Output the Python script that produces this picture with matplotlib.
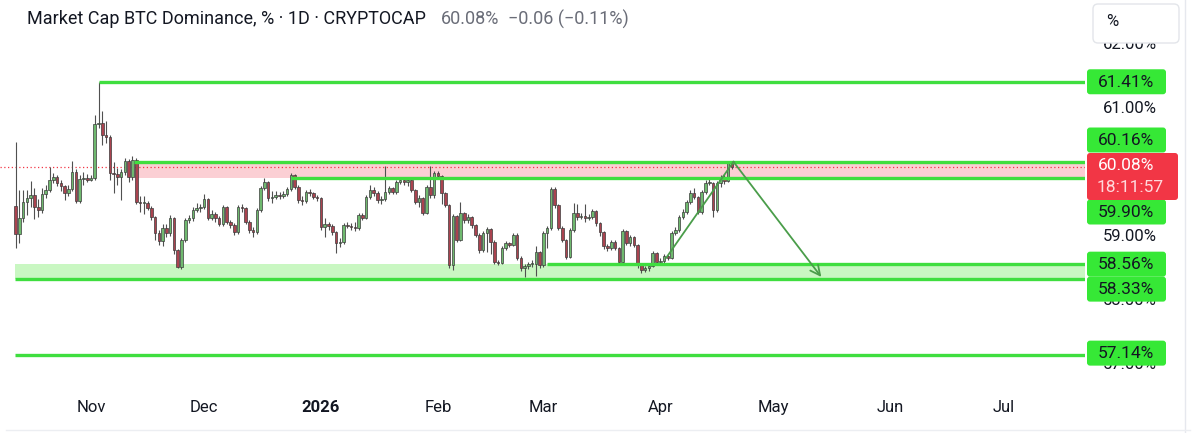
import numpy as np
import pandas as pd
import matplotlib
matplotlib.use("Agg")
import matplotlib.pyplot as plt
import matplotlib.dates as mdates
from matplotlib.patches import FancyBboxPatch

plt.rcParams['font.family'] = ['Roboto', 'DejaVu Sans']

# ---- data (daily candles, CRYPTOCAP:BTC.D) ----
start_date = '2025-10-12'
first_open = 59.47
closes = [
    59.03, 59.28, 59.53, 59.59, 59.64, 59.45, 59.40, 59.66, 59.72, 59.88,
    59.92, 59.83, 59.78, 59.67, 59.73, 60.00, 59.55, 59.89, 59.91, 59.88,
    59.91, 60.75, 60.77, 60.58, 60.55, 59.98, 59.97, 59.92, 60.00, 60.17,
    59.92, 60.19, 59.53, 59.52, 59.52, 59.44, 59.30, 59.05, 58.92, 59.13,
    59.05, 59.28, 58.78, 58.52, 58.94, 59.25, 59.28, 59.41, 59.44, 59.45,
    59.58, 59.28, 59.34, 59.28, 59.19, 59.45, 59.22, 59.17, 59.06, 59.45,
    59.44, 59.22, 59.09, 59.06, 59.41, 59.75, 59.84, 59.59, 59.61, 59.64,
    59.63, 59.66, 59.73, 59.95, 59.77, 59.56, 59.55, 59.69, 59.67, 59.61,
    59.59, 59.14, 59.19, 59.16, 59.06, 58.89, 58.91, 59.17, 59.16, 59.14,
    59.13, 59.33, 59.28, 59.61, 59.72, 59.67, 59.56, 59.58, 59.69, 59.75,
    59.69, 59.84, 59.88, 59.84, 59.88, 59.72, 59.53, 59.59, 59.36, 59.77,
    59.64, 59.98, 59.94, 59.67, 59.48, 58.55, 59.31, 58.94, 59.36, 59.25,
    59.30, 59.17, 59.02, 58.78, 59.05, 59.11, 58.91, 58.59, 58.58, 58.81,
    58.89, 58.86, 59.02, 58.66, 58.50, 58.53, 58.56, 58.56, 58.75, 58.55,
    59.05, 59.13, 59.73, 59.48, 59.13, 58.94, 58.67, 59.09, 59.36, 59.30,
    59.31, 59.28, 59.30, 59.39, 59.20, 59.06, 58.84, 58.81, 58.91, 58.81,
    58.59, 59.08, 58.89, 58.98, 58.86, 58.55, 58.47, 58.50, 58.53, 58.73,
    58.59, 58.61, 58.69, 58.66, 59.05, 59.09, 59.30, 59.38, 59.53, 59.67,
    59.61, 59.38, 59.69, 59.83, 59.83, 59.41, 59.83, 59.92, 59.86, 60.14,
    60.08]
highs = [
    60.47, 59.72, 59.72, 59.72, 59.86, 59.75, 59.58, 59.75, 59.80, 60.08,
    59.98, 59.95, 59.88, 59.80, 59.80, 60.17, 60.05, 59.95, 60.00, 59.97,
    59.95, 60.89, 61.41, 60.95, 60.80, 60.58, 60.16, 60.06, 60.05, 60.22,
    60.20, 60.25, 60.22, 59.62, 59.62, 59.55, 59.47, 59.32, 59.10, 59.18,
    59.18, 59.33, 59.30, 58.80, 58.97, 59.28, 59.33, 59.45, 59.52, 59.50,
    59.66, 59.60, 59.40, 59.38, 59.31, 59.48, 59.47, 59.25, 59.20, 59.48,
    59.50, 59.46, 59.25, 59.14, 59.44, 59.78, 59.91, 59.86, 59.70, 59.70,
    59.68, 59.70, 59.77, 59.98, 59.97, 59.79, 59.62, 59.72, 59.74, 59.69,
    59.64, 59.61, 59.28, 59.22, 59.18, 59.08, 58.97, 59.20, 59.22, 59.20,
    59.22, 59.36, 59.36, 59.64, 59.80, 59.76, 59.70, 59.63, 60.09, 59.78,
    59.77, 59.87, 59.92, 59.90, 59.92, 59.90, 59.74, 59.64, 59.61, 59.80,
    60.09, 60.02, 60.02, 59.96, 59.69, 59.50, 59.34, 59.33, 59.53, 59.38,
    59.34, 59.32, 59.19, 59.04, 59.08, 59.14, 59.13, 58.93, 58.62, 58.84,
    58.92, 58.91, 59.05, 59.04, 58.68, 58.56, 58.59, 58.62, 58.84, 58.77,
    59.08, 59.16, 59.76, 59.77, 59.50, 59.15, 58.96, 59.12, 59.52, 59.50,
    59.36, 59.50, 59.34, 59.42, 59.41, 59.22, 59.08, 58.88, 58.94, 58.93,
    58.83, 59.11, 59.10, 59.01, 59.00, 58.88, 58.57, 58.53, 58.56, 58.76,
    58.75, 58.66, 58.72, 58.70, 59.08, 59.14, 59.33, 59.42, 59.56, 59.72,
    59.75, 59.63, 59.72, 59.88, 59.90, 59.85, 59.86, 59.95, 59.97, 60.17,
    60.15]
lows = [
    58.81, 58.89, 59.22, 59.33, 59.45, 59.27, 59.30, 59.36, 59.60, 59.68,
    59.83, 59.78, 59.70, 59.56, 59.62, 59.70, 59.52, 59.52, 59.80, 59.84,
    59.86, 59.88, 60.69, 60.42, 60.45, 59.88, 59.67, 59.80, 59.56, 59.95,
    59.85, 59.88, 59.50, 59.38, 59.34, 59.40, 59.25, 58.94, 58.86, 58.85,
    58.98, 59.00, 58.72, 58.50, 58.48, 58.90, 59.20, 59.24, 59.38, 59.38,
    59.42, 59.25, 59.25, 59.22, 59.15, 59.16, 59.18, 59.12, 59.02, 59.03,
    59.38, 59.18, 59.05, 58.98, 59.03, 59.38, 59.72, 59.55, 59.52, 59.58,
    59.58, 59.60, 59.63, 59.70, 59.73, 59.52, 59.48, 59.52, 59.62, 59.58,
    59.55, 59.10, 58.98, 59.10, 59.02, 58.73, 58.83, 58.88, 59.12, 59.10,
    59.08, 59.10, 59.25, 59.26, 59.58, 59.62, 59.52, 59.50, 59.55, 59.66,
    59.65, 59.66, 59.81, 59.80, 59.78, 59.68, 59.50, 59.45, 59.33, 59.34,
    59.60, 59.60, 59.90, 59.50, 59.45, 58.50, 58.47, 58.90, 58.92, 59.20,
    59.20, 59.12, 58.98, 58.74, 58.75, 58.75, 58.72, 58.56, 58.54, 58.56,
    58.78, 58.83, 58.84, 58.62, 58.45, 58.36, 58.48, 58.52, 58.38, 58.50,
    58.52, 58.81, 59.10, 59.44, 59.10, 58.90, 58.64, 58.65, 59.06, 59.25,
    59.26, 59.22, 59.25, 59.27, 59.16, 59.00, 58.80, 58.76, 58.78, 58.78,
    58.56, 58.57, 58.86, 58.85, 58.83, 58.50, 58.42, 58.44, 58.45, 58.51,
    58.56, 58.57, 58.58, 58.62, 58.64, 59.02, 59.06, 59.27, 59.35, 59.50,
    59.58, 59.34, 59.35, 59.66, 59.79, 59.30, 59.38, 59.76, 59.82, 59.84,
    60.05]

last_price = 60.08
change = '\u22120.06 (\u22120.11%)'
countdown = '18:11:57'

# horizontal levels drawn on the chart and the date each one starts
levels = [61.41, 60.16, 59.90, 58.56, 58.33, 57.14]
level_starts = ['2025-11-03', '2025-11-12 12:00', '2025-12-24',
                '2026-03-02', '2025-10-11 18:00', '2025-10-11 18:00']
# where the price-scale tags sit (shifted apart where they would overlap)
tag_pos = [61.41, 60.50, 59.375, 58.56, 58.17, 57.17]

sell_zone = (59.90, 60.16, '2025-11-12 12:00')
buy_zone = (58.33, 58.56, '2025-10-11 18:00')

path_dates = ['2026-04-02 14:00', '2026-04-20 10:00', '2026-05-13 17:00']
path_vals = [58.66, 60.16, 58.36]

month_ticks = ['2025-11-01', '2025-12-01', '2026-01-01', '2026-02-01', '2026-03-01',
               '2026-04-01', '2026-05-01', '2026-06-01', '2026-07-01']
month_labels = ['Nov', 'Dec', '2026', 'Feb', 'Mar', 'Apr', 'May', 'Jun', 'Jul']
price_ticks = [62, 61, 59, 58, 57]   # 60.00% sits fully under the live-price tag

# ---- figure ----
W, H = 1200, 433
fig = plt.figure(figsize=(W / 100, H / 100), dpi=100)
ax = fig.add_axes([0, (H - 385) / H, 1085 / W, (385 - 40) / H])

d0 = mdates.date2num(pd.Timestamp('2025-11-01'))
x0, x1 = d0 - 24.14, d0 + 263.66
ax.set_xlim(x0, x1)
ax.set_ylim(56.672, 62.0625)

dates = mdates.date2num(pd.date_range(start_date, periods=len(closes), freq='D'))
c = np.array(closes)
o = np.r_[first_open, c[:-1]]
hi = np.array(highs)
lo = np.array(lows)
up = c >= o
body_col = np.where(up, '#6fb96f', '#a9434f')

ax.vlines(dates, lo, hi, color='#505050', lw=0.8, zorder=3)
ax.bar(dates, np.maximum(np.abs(c - o), 0.012), bottom=np.minimum(o, c), width=0.68,
       color=body_col, edgecolor='#3c3c3c', linewidth=0.5, zorder=4)

# zones
for lo_v, hi_v, st, col in [(sell_zone[0], sell_zone[1], sell_zone[2], '#fbcfd4'),
                            (buy_zone[0], buy_zone[1], buy_zone[2], '#c9f7c2')]:
    s = mdates.date2num(pd.Timestamp(st))
    ax.fill_between([s, x1], lo_v, hi_v, color=col, lw=0, zorder=1)

# current price line
ax.axhline(last_price, color='#f23645', lw=0.9, ls=(0, (1, 2)), zorder=2)

# levels
for v, st in zip(levels, level_starts):
    s = mdates.date2num(pd.Timestamp(st))
    ax.hlines(v, s, x1, color='#3fde3f', lw=2.4, zorder=5)

# projected path
pd_num = mdates.date2num(pd.to_datetime(path_dates))
ax.plot(pd_num[:2], path_vals[:2], color='#4a9d4a', lw=1.3, zorder=6)
ax.annotate('', xy=(pd_num[2], path_vals[2]), xytext=(pd_num[1], path_vals[1]),
            arrowprops=dict(arrowstyle='->,head_length=0.7,head_width=0.35',
                            color='#4a9d4a', lw=1.3, shrinkA=0, shrinkB=0), zorder=6)

ax.set_xticks(mdates.date2num(pd.to_datetime(month_ticks)))
ax.set_xticklabels(month_labels, fontsize=12, color='#131722')
ax.get_xticklabels()[2].set_fontweight('bold')
ax.tick_params(axis='x', length=0, pad=11)
ax.set_yticks([])
for sp in ax.spines.values():
    sp.set_visible(False)

# ---- overlay in pixel coordinates ----
ov = fig.add_axes([0, 0, 1, 1], zorder=10)
ov.set_xlim(0, W)
ov.set_ylim(H, 0)
ov.axis('off')
ov.patch.set_alpha(0)


def ypix(v):
    return H - ax.transData.transform((x0, v))[1]


ov.text(27, 19, 'Market Cap BTC Dominance, % \u00b7 1D \u00b7 CRYPTOCAP', fontsize=13,
        color='#131722', va='center', ha='left')
ov.text(441, 19, f'{last_price:.2f}%', fontsize=13, color='#6a6d78', va='center', ha='left')
ov.text(508, 19, change, fontsize=13, color='#6a6d78', va='center', ha='left')

ov.plot([1185, 1185], [0, H], color='#e6e8ee', lw=1, zorder=1)
ov.plot([6, 1190], [430, 430], color='#eceef2', lw=1, zorder=1)

for v in price_ticks:
    ov.text(1130, ypix(v), f'{v:.2f}%', fontsize=12, color='#131722',
            ha='center', va='center', zorder=2)

# "%" button
ov.add_patch(FancyBboxPatch((1093, 4), 86, 39, boxstyle='round,pad=0,rounding_size=5',
                            fc='white', ec='#e3e5ea', lw=1, zorder=4))
ov.text(1112, 22, '%', fontsize=12, color='#131722', ha='center', va='center', zorder=5)

for v, p in zip(levels, tag_pos):
    y = ypix(p)
    ov.add_patch(FancyBboxPatch((1087, y - 12.5), 79, 25, boxstyle='round,pad=0,rounding_size=3',
                                fc='#36e836', ec='none', zorder=4))
    ov.text(1126, y + 0.5, f'{v:.2f}%', fontsize=12.5, color='#131722',
            ha='center', va='center', zorder=5)

ov.add_patch(FancyBboxPatch((1087, 153), 91, 47, boxstyle='round,pad=0,rounding_size=3',
                            fc='#f23645', ec='none', zorder=4))
ov.text(1126, 166, f'{last_price:.2f}%', fontsize=12.5, color='white',
        ha='center', va='center', zorder=5)
ov.text(1130, 187, countdown, fontsize=12.5, color='#ffd9dc', ha='center', va='center', zorder=5)

fig.savefig('out.png', dpi=100, facecolor='white')
